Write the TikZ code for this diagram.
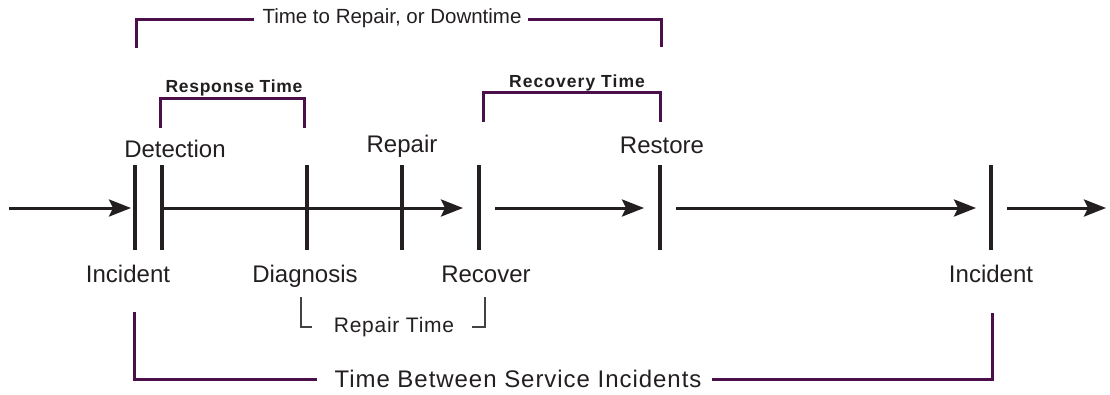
\documentclass[tikz,border=0pt]{standalone}
\usepackage{fontspec}
\setmainfont{Liberation Sans}
\usetikzlibrary{arrows.meta}
\definecolor{ink}{HTML}{231F20}
\definecolor{plum}{HTML}{4B0F4B}
\begin{document}
\begin{tikzpicture}[x=1pt,y=-1pt,
  tick/.style={line width=3.2pt, draw=ink},
  flow/.style={line width=3pt, draw=ink, -{Stealth[length=22pt,width=17pt,inset=4pt]}},
  brk/.style={line width=3pt, draw=plum},
  fine/.style={line width=1.6pt, draw=ink!85},
  big/.style={font=\fontsize{24}{28}\selectfont, text=ink, inner sep=0pt, anchor=base},
  mid/.style={font=\fontsize{20.5}{24}\selectfont, text=ink, inner sep=0pt, anchor=base},
  small/.style={font=\bfseries\fontsize{17.5}{21}\selectfont\addfontfeature{LetterSpace=4}, text=ink, inner sep=0pt, anchor=base},
  rep/.style={font=\fontsize{21}{25}\selectfont\addfontfeature{LetterSpace=3.5}, text=ink, inner sep=0pt, anchor=base},
  tbs/.style={font=\fontsize{24}{28}\selectfont\addfontfeature{LetterSpace=4}, text=ink, inner sep=0pt, anchor=base}
]
\useasboundingbox (0,0) rectangle (1110,394);
% tick marks
\foreach \n/\x in {inc/135, det/162, dia/307, rpr/402, rec/479, rst/660, inc2/991}{
  \coordinate (\n T) at (\x,165);
  \coordinate (\n B) at (\x,250);
  \coordinate (\n) at (\x,208);
  \draw[tick] (\n T) -- (\n B);
}
% flow arrows
\coordinate (s1) at (9,208);    \coordinate (e1) at (131,208);
\coordinate (e2) at (463,208);
\coordinate (s3) at (495,208);  \coordinate (e3) at (644,208);
\coordinate (s4) at (676,208);  \coordinate (e4) at (976,208);
\coordinate (s5) at (1007,208); \coordinate (e5) at (1106,208);
\draw[flow] (s1) -- (e1);
\draw[flow] (det) -- (e2);
\draw[flow] (s3) -- (e3);
\draw[flow] (s4) -- (e4);
\draw[flow] (s5) -- (e5);
% event labels
\node[big] (lDet) at (175,157) {Detection};
\node[big] (lRpr) at (402,152) {Repair};
\node[big] (lRst) at (662,153) {Restore};
\node[big] (lInc) at (128,282) {Incident};
\node[big] (lDia) at (305,282) {Diagnosis};
\node[big] (lRec) at (486,282) {Recover};
\node[big] (lInc2) at (991,282) {Incident};
% Time to Repair, or Downtime
\node[mid] (tDown) at (392,23) {Time to Repair, or Downtime};
\coordinate (dL) at (136,48); \coordinate (dA) at (254,19);
\coordinate (dR) at (661,47); \coordinate (dB) at (528,19);
\draw[brk] (dL) |- (dA);
\draw[brk] (dB) -| (dR);
% Response Time
\node[small] (tResp) at (234,92) {Response Time};
\coordinate (rsL) at (160,128); \coordinate (rsR) at (304,128);
\draw[brk] (rsL) -- ++(0,-30) -| (rsR);
% Recovery Time
\node[small, font=\bfseries\fontsize{17.5}{21}\selectfont\addfontfeature{LetterSpace=6}] (tRecov) at (577,87) {Recovery Time};
\coordinate (rvL) at (483,122); \coordinate (rvR) at (660,122);
\draw[brk] (rvL) -- ++(0,-30) -| (rvR);
% Repair Time
\node[rep] (tRep) at (394,332) {Repair Time};
\coordinate (pL) at (301,297); \coordinate (pA) at (312,327);
\coordinate (pR) at (485,297); \coordinate (pB) at (472,327);
\draw[fine] (pL) |- (pA);
\draw[fine] (pB) -| (pR);
% Time Between Service Incidents
\node[tbs] (tBetween) at (518,387) {Time Between Service Incidents};
\coordinate (bL) at (134,312); \coordinate (bA) at (317,379);
\coordinate (bR) at (992,313); \coordinate (bB) at (712,379);
\draw[brk] (bL) |- (bA);
\draw[brk] (bB) -| (bR);
\end{tikzpicture}
\end{document}
